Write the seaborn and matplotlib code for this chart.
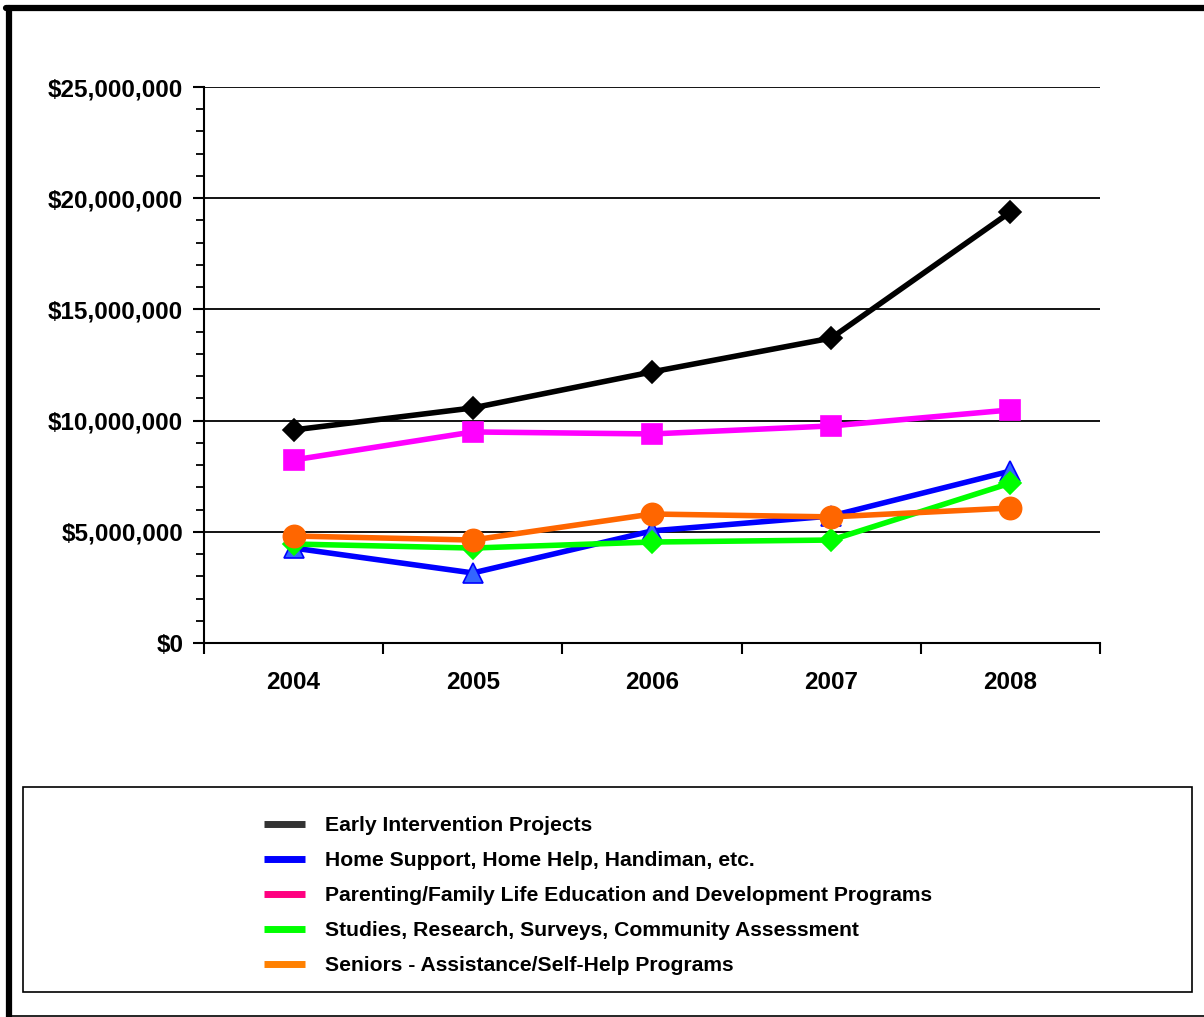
import matplotlib
matplotlib.use('Agg')
import matplotlib.pyplot as plt
from matplotlib.lines import Line2D
from matplotlib.patches import Rectangle
from matplotlib.ticker import FuncFormatter, MultipleLocator
import seaborn as sns
import pandas as pd

years = ['2004', '2005', '2006', '2007', '2008']
early_intervention = [9.58e6, 10.57e6, 12.19e6, 13.71e6, 19.38e6]
home_support = [4.27e6, 3.15e6, 5.04e6, 5.71e6, 7.73e6]
parenting = [8.23e6, 9.49e6, 9.40e6, 9.76e6, 10.48e6]
studies = [4.45e6, 4.27e6, 4.54e6, 4.63e6, 7.19e6]
seniors = [4.81e6, 4.63e6, 5.80e6, 5.67e6, 6.07e6]

series_names = ['Early Intervention Projects',
                'Home Support, Home Help, Handiman, etc.',
                'Parenting/Family Life Education and Development Programs',
                'Studies, Research, Surveys, Community Assessment',
                'Seniors - Assistance/Self-Help Programs']

sns.set_style('white')
plt.rcParams['font.family'] = ['Liberation Sans', 'DejaVu Sans']
plt.rcParams['font.weight'] = 'bold'
plt.rcParams['text.color'] = 'black'
plt.rcParams['xtick.color'] = 'black'
plt.rcParams['ytick.color'] = 'black'

fig = plt.figure(figsize=(12.04, 10.17), dpi=100)
ax = fig.add_axes([204 / 1204, 1 - 643 / 1017, 896 / 1204, 556 / 1017])

# (values, line colour, marker, marker face, marker edge, marker size, legend colour)
styles = [
    (early_intervention, 'black', 'D', 'black', 'black', 11, '#333333'),
    (home_support, '#0000ff', '^', '#3366ff', '#0000ff', 14, '#0000ff'),
    (parenting, '#ff00ff', 's', '#ff00ff', '#ff00ff', 15, '#ff0080'),
    (studies, '#00ff00', 'D', '#00ff00', '#00ff00', 11, '#00ff00'),
    (seniors, '#ff6600', 'o', '#ff6600', '#ff6600', 16, '#ff8000'),
]

order = [0, 2, 1, 3, 4]
for i in order:
    vals, col, mk, mfc, mec, ms, _ = styles[i]
    df = pd.DataFrame({'year': years, 'value': vals})
    sns.lineplot(data=df, x='year', y='value', ax=ax, color=col, linewidth=4,
                 marker=mk, markersize=ms, markerfacecolor=mfc, markeredgecolor=mec,
                 markeredgewidth=1.2, zorder=3 + i, sort=False)

ax.set_xlim(-0.5, len(years) - 0.5)
ax.set_ylim(0, 25e6)
ax.yaxis.set_major_locator(MultipleLocator(5e6))
ax.yaxis.set_minor_locator(MultipleLocator(1e6))
ax.yaxis.set_major_formatter(FuncFormatter(lambda v, p: f'${v:,.0f}'))
ax.grid(axis='y', color='black', linewidth=1.3)
ax.grid(axis='x', visible=False)
ax.set_axisbelow(True)

ax.set_xticks([x + 0.5 for x in range(-1, len(years))])
ax.set_xticklabels([])
ax.set_xticks(range(len(years)), minor=True)
ax.set_xticklabels(years, minor=True)
ax.tick_params(axis='x', which='major', bottom=True, direction='out', length=8,
               width=1.5, color='black')
ax.tick_params(axis='x', which='minor', bottom=True, length=0, pad=20, labelsize=17.5)
ax.tick_params(axis='y', which='major', left=True, direction='out', length=8, width=1.5,
               color='black', pad=7, labelsize=17.5)
ax.tick_params(axis='y', which='minor', left=True, direction='out', length=6,
               width=1.3, color='black')
for lbl in ax.get_xticklabels(minor=True) + ax.get_yticklabels():
    lbl.set_fontweight('bold')

ax.set_xlabel('')
ax.set_ylabel('')
for side in ['top', 'right']:
    ax.spines[side].set_visible(False)
for side in ['left', 'bottom']:
    ax.spines[side].set_color('black')
    ax.spines[side].set_linewidth(1.5)

# legend box
fig.add_artist(Rectangle((23 / 1204, 1 - 992 / 1017), 1169 / 1204, 205 / 1017,
                         transform=fig.transFigure, fill=False, edgecolor='black',
                         linewidth=1.2))
handles = [Line2D([0], [0], color=s[6], linewidth=5, solid_capstyle='butt')
           for s in styles]
leg = fig.legend(handles, series_names, loc='upper left',
                 bbox_to_anchor=(264 / 1204, 1 - 816 / 1017), frameon=False,
                 borderpad=0, borderaxespad=0, handlelength=1.92,
                 handletextpad=0.96, labelspacing=0.76,
                 prop={'weight': 'bold', 'size': 15.2})

# outer frame
fig.add_artist(Line2D([9 / 1204, 9 / 1204], [0.0, 1 - 8 / 1017], color='black',
                      linewidth=4.5, transform=fig.transFigure))
fig.add_artist(Line2D([6 / 1204, 1.0], [1 - 8 / 1017, 1 - 8 / 1017], color='black',
                      linewidth=4.5, transform=fig.transFigure))
fig.add_artist(Line2D([9 / 1204, 1.0], [1.5 / 1017, 1.5 / 1017], color='black',
                      linewidth=1.2, transform=fig.transFigure))

fig.savefig('out.png', dpi=100)
